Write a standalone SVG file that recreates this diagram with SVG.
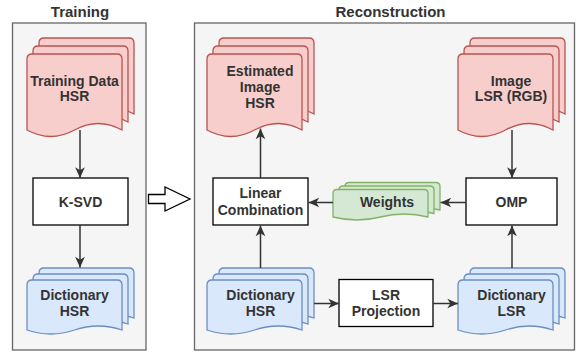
<svg xmlns="http://www.w3.org/2000/svg" width="576" height="354" viewBox="0 0 576 354">
<defs>
<style>
.cont{fill:#f5f5f5;stroke:#666666;stroke-width:1.3}
.box{fill:#ffffff;stroke:#000000;stroke-width:1.3}
.red{fill:#f8cecc;stroke:#b85450;stroke-width:1.3}
.blue{fill:#dae8fc;stroke:#6c8ebf;stroke-width:1.3}
.green{fill:#d5e8d4;stroke:#82b366;stroke-width:1.3}
.t{font-family:"Liberation Sans",Arial,sans-serif;font-weight:bold;font-size:14px;fill:#333333;text-anchor:middle}
.title{font-family:"Liberation Sans",Arial,sans-serif;font-weight:bold;font-size:15px;fill:#333333;text-anchor:middle}
.conn{fill:none;stroke:#333333;stroke-width:1.5}
</style>
<marker id="ah" viewBox="0 0 10 10" refX="10" refY="5" markerWidth="11" markerHeight="11" markerUnits="userSpaceOnUse" orient="auto">
<path d="M0.3,0.6 L10,5 L0.3,9.4 L3,5 Z" fill="#333333"/>
</marker>
</defs>

<g id="training-container">
<rect class="cont" x="12.5" y="23" width="133.5" height="327"/>
<text class="title" x="80" y="16.5">Training</text>
</g>
<g id="reconstruction-container">
<rect class="cont" x="194.5" y="23" width="380" height="327"/>
<text class="title" x="390.5" y="16.5">Reconstruction</text>
</g>

<g id="training-data-hsr">
<path class="red" d="M39,114 L39,43 Q39,38 44,38 L129,38 Q134,38 134,43 L134,114 Q110.25,101 86.5,114 Q62.75,127 39,114 Z"/>
<path class="red" d="M33,122 L33,51 Q33,46 38,46 L123,46 Q128,46 128,51 L128,122 Q104.25,109 80.5,122 Q56.75,135 33,122 Z"/>
<path class="red" d="M27,130 L27,59 Q27,54 32,54 L117,54 Q122,54 122,59 L122,130 Q98.25,117 74.5,130 Q50.75,143 27,130 Z"/>
<text class="t" x="74.5" y="85.5">Training Data</text>
<text class="t" x="74.5" y="101">HSR</text>
</g>

<g id="ksvd">
<rect class="box" x="33" y="178" width="95" height="47"/>
<text class="t" x="80.5" y="206.5">K-SVD</text>
</g>

<g id="dictionary-hsr-train">
<path class="blue" d="M39,318 L39,273 Q39,268 44,268 L129,268 Q134,268 134,273 L134,318 Q110.25,310 86.5,318 Q62.75,326 39,318 Z"/>
<path class="blue" d="M33,324 L33,279 Q33,274 38,274 L123,274 Q128,274 128,279 L128,324 Q104.25,316 80.5,324 Q56.75,332 33,324 Z"/>
<path class="blue" d="M27,330 L27,285 Q27,280 32,280 L117,280 Q122,280 122,285 L122,330 Q98.25,322 74.5,330 Q50.75,338 27,330 Z"/>
<text class="t" x="74.5" y="300">Dictionary</text>
<text class="t" x="74.5" y="315.5">HSR</text>
</g>

<g id="transfer-arrow">
<path d="M148.5,194.5 L165,194.5 L165,187 L190,199 L165,211 L165,203.5 L148.5,203.5 Z" fill="#ffffff" stroke="#000000" stroke-width="1.3"/>
</g>

<g id="estimated-image-hsr">
<path class="red" d="M219,114 L219,43 Q219,38 224,38 L309,38 Q314,38 314,43 L314,114 Q290.25,101 266.5,114 Q242.75,127 219,114 Z"/>
<path class="red" d="M213,122 L213,51 Q213,46 218,46 L303,46 Q308,46 308,51 L308,122 Q284.25,109 260.5,122 Q236.75,135 213,122 Z"/>
<path class="red" d="M207,130 L207,59 Q207,54 212,54 L297,54 Q302,54 302,59 L302,130 Q278.25,117 254.5,130 Q230.75,143 207,130 Z"/>
<text class="t" x="260" y="76">Estimated</text>
<text class="t" x="260" y="92">Image</text>
<text class="t" x="260" y="108">HSR</text>
</g>

<g id="image-lsr-rgb">
<path class="red" d="M470,114 L470,43 Q470,38 475,38 L560,38 Q565,38 565,43 L565,114 Q541.25,101 517.5,114 Q493.75,127 470,114 Z"/>
<path class="red" d="M464,122 L464,51 Q464,46 469,46 L554,46 Q559,46 559,51 L559,122 Q535.25,109 511.5,122 Q487.75,135 464,122 Z"/>
<path class="red" d="M458,130 L458,59 Q458,54 463,54 L548,54 Q553,54 553,59 L553,130 Q529.25,117 505.5,130 Q481.75,143 458,130 Z"/>
<text class="t" x="511" y="85.5">Image</text>
<text class="t" x="511" y="101">LSR (RGB)</text>
</g>

<g id="linear-combination">
<rect class="box" x="213" y="178" width="95" height="47"/>
<text class="t" x="260.5" y="198">Linear</text>
<text class="t" x="260.5" y="214.5">Combination</text>
</g>

<g id="weights">
<path class="green" d="M345,210 L345,186.5 Q345,182.5 349,182.5 L436,182.5 Q440,182.5 440,186.5 L440,210 Q416.25,204 392.5,210 Q368.75,216 345,210 Z"/>
<path class="green" d="M339,213.5 L339,190 Q339,186 343,186 L430,186 Q434,186 434,190 L434,213.5 Q410.25,207.5 386.5,213.5 Q362.75,219.5 339,213.5 Z"/>
<path class="green" d="M333,217 L333,193.5 Q333,189.5 337,189.5 L424,189.5 Q428,189.5 428,193.5 L428,217 Q404.25,211 380.5,217 Q356.75,223 333,217 Z"/>
<text class="t" x="387" y="206.5">Weights</text>
</g>

<g id="omp">
<rect class="box" x="466" y="178" width="91" height="47"/>
<text class="t" x="511.5" y="206.5">OMP</text>
</g>

<g id="dictionary-hsr-recon">
<path class="blue" d="M219,318 L219,273 Q219,268 224,268 L309,268 Q314,268 314,273 L314,318 Q290.25,310 266.5,318 Q242.75,326 219,318 Z"/>
<path class="blue" d="M213,324 L213,279 Q213,274 218,274 L303,274 Q308,274 308,279 L308,324 Q284.25,316 260.5,324 Q236.75,332 213,324 Z"/>
<path class="blue" d="M207,330 L207,285 Q207,280 212,280 L297,280 Q302,280 302,285 L302,330 Q278.25,322 254.5,330 Q230.75,338 207,330 Z"/>
<text class="t" x="260.5" y="299.5">Dictionary</text>
<text class="t" x="260.5" y="315.5">HSR</text>
</g>

<g id="lsr-projection">
<rect class="box" x="339" y="279.5" width="94" height="47"/>
<text class="t" x="386" y="299.5">LSR</text>
<text class="t" x="386" y="315.5">Projection</text>
</g>

<g id="dictionary-lsr">
<path class="blue" d="M470,318 L470,273 Q470,268 475,268 L560,268 Q565,268 565,273 L565,318 Q541.25,310 517.5,318 Q493.75,326 470,318 Z"/>
<path class="blue" d="M464,324 L464,279 Q464,274 469,274 L554,274 Q559,274 559,279 L559,324 Q535.25,316 511.5,324 Q487.75,332 464,324 Z"/>
<path class="blue" d="M458,330 L458,285 Q458,280 463,280 L548,280 Q553,280 553,285 L553,330 Q529.25,322 505.5,330 Q481.75,338 458,330 Z"/>
<text class="t" x="511.5" y="299.5">Dictionary</text>
<text class="t" x="511.5" y="315.5">LSR</text>
</g>

<g id="connectors">
<path class="conn" marker-end="url(#ah)" d="M80,130 L80,178"/>
<path class="conn" marker-end="url(#ah)" d="M80,225 L80,267.5"/>
<path class="conn" marker-end="url(#ah)" d="M260.5,178 L260.5,128.5"/>
<path class="conn" marker-end="url(#ah)" d="M260.5,268 L260.5,225.5"/>
<path class="conn" marker-end="url(#ah)" d="M314,303.5 L339,303.5"/>
<path class="conn" marker-end="url(#ah)" d="M433,303.5 L458,303.5"/>
<path class="conn" marker-end="url(#ah)" d="M512,268 L512,225.5"/>
<path class="conn" marker-end="url(#ah)" d="M512,130 L512,178"/>
<path class="conn" marker-end="url(#ah)" d="M466,202.5 L440.5,202.5"/>
<path class="conn" marker-end="url(#ah)" d="M333,202.5 L308.5,202.5"/>
</g>
</svg>
